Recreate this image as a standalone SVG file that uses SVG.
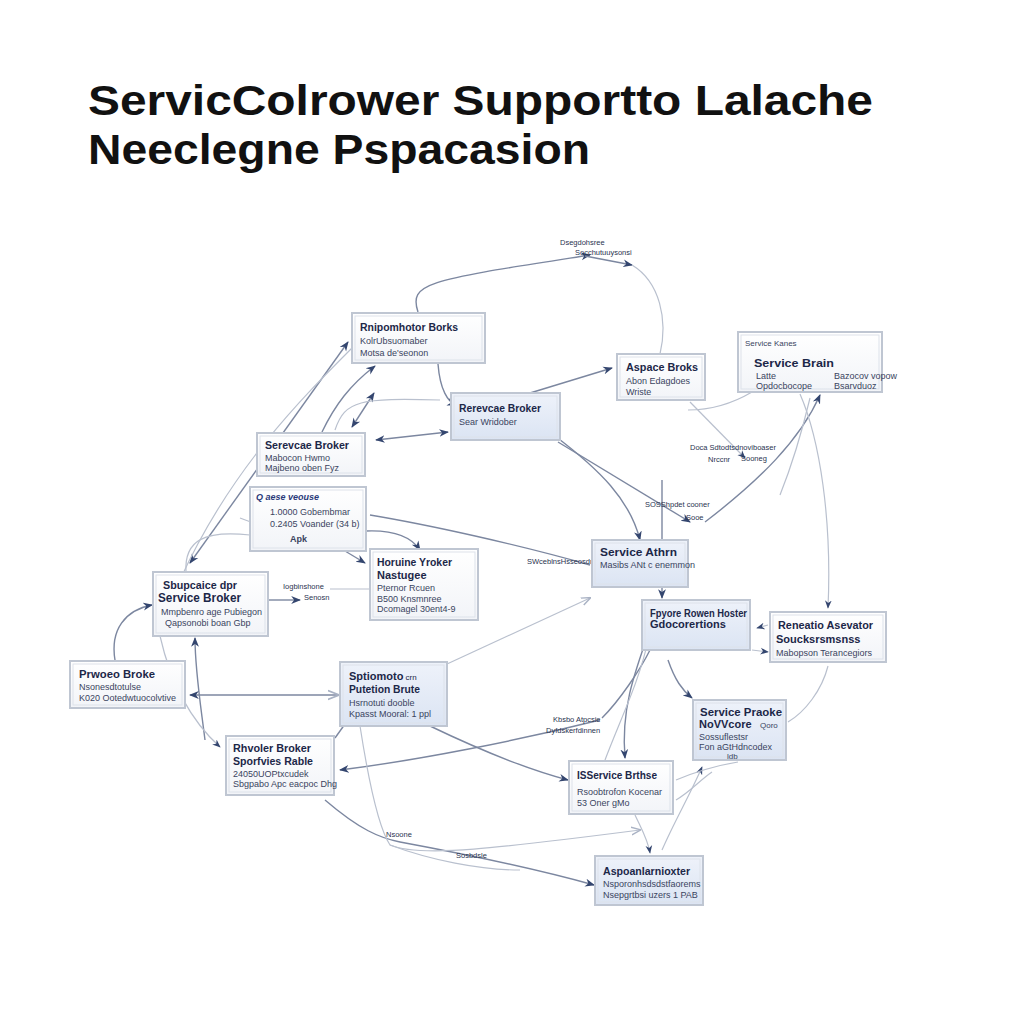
<svg xmlns="http://www.w3.org/2000/svg" width="1024" height="1024" viewBox="0 0 1024 1024">
<defs>
<linearGradient id="gw" x1="0" y1="0" x2="0" y2="1"><stop offset="0" stop-color="#ffffff"/><stop offset="1" stop-color="#f2f4f8"/></linearGradient>
<linearGradient id="gb" x1="0" y1="0" x2="0" y2="1"><stop offset="0" stop-color="#eef2fa"/><stop offset="1" stop-color="#dbe4f3"/></linearGradient>
<marker id="a" viewBox="0 0 10 10" refX="9" refY="5" markerWidth="7" markerHeight="7" orient="auto-start-reverse"><path d="M0,1 L10,5 L0,9 L3,5 z" fill="#34466f"/></marker>
<marker id="o" viewBox="0 0 10 10" refX="9" refY="5" markerWidth="8" markerHeight="8" orient="auto-start-reverse"><path d="M0,1 L10,5 L0,9" fill="none" stroke="#a9b2c4" stroke-width="1.5"/></marker>
</defs>
<style>
.bx{stroke:#bfc6d2;stroke-width:2}
.in{fill:none;stroke:#dde2ea;stroke-width:1}
.w{fill:url(#gw)}
.b{fill:url(#gb)}
.t{font-family:"Liberation Sans",Arial,sans-serif;font-weight:bold;font-size:11px;fill:#1c2748}
.s{font-family:"Liberation Sans",Arial,sans-serif;font-size:9px;fill:#3a4460}
.l{font-family:"Liberation Sans",Arial,sans-serif;font-size:7.5px;fill:#2a3350}
.h{font-family:"Liberation Sans",Arial,sans-serif;font-weight:bold;font-size:42px;fill:#111111}
.c{fill:none;stroke:#7c87a0;stroke-width:1.4}
.f{fill:none;stroke:#b9c0ce;stroke-width:1.2}
</style>
<rect width="1024" height="1024" fill="#ffffff"/>
<text class="h" x="88" y="115" textLength="785" lengthAdjust="spacingAndGlyphs">ServicColrower Supportto Lalache</text>
<text class="h" x="88" y="164" textLength="502" lengthAdjust="spacingAndGlyphs">Neeclegne Pspacasion</text>

<g id="connectors">
<path class="c" d="M418,312 C408,282 430,280 590,255" marker-end="url(#a)"/>
<path class="c" d="M585,256 L632,265" marker-end="url(#a)"/>
<path class="f" d="M632,265 C660,282 668,320 660,354"/>
<path class="c" d="M190,563 L348,342" marker-start="url(#a)" marker-end="url(#a)"/>
<path class="c" d="M322,432 C335,405 350,385 375,366" marker-end="url(#a)"/>
<path class="f" d="M180,580 C230,470 300,400 355,345"/>
<path class="c" d="M352,427 L374,393" marker-end="url(#a)" marker-start="url(#a)"/>
<path class="f" d="M335,430 C345,400 360,398 440,400"/>
<path class="c" d="M448,432 L376,440" marker-end="url(#a)" marker-start="url(#a)"/>
<path class="c" d="M438,364 C440,390 448,402 456,405" marker-end="url(#a)"/>
<path class="c" d="M530,393 L612,368" marker-end="url(#a)"/>
<path class="c" d="M555,436 C600,470 630,500 640,540" marker-end="url(#a)"/>
<path class="c" d="M558,442 L690,522" marker-end="url(#a)"/>
<path class="f" d="M752,392 C730,405 710,410 688,410"/>
<path class="f" d="M690,402 L745,458" marker-end="url(#a)"/>
<path class="c" d="M705,522 C760,480 800,440 820,395" marker-end="url(#a)"/>
<path class="f" d="M800,394 C820,440 832,520 828,608" marker-end="url(#a)"/>
<path class="f" d="M810,398 C800,440 790,470 780,495"/>
<path class="c" d="M370,515 C430,525 520,545 590,565"/>
<path class="c" d="M366,531 C390,530 410,535 420,550" marker-end="url(#a)"/>
<path class="c" d="M345,551 L365,563" marker-end="url(#a)"/>
<path class="f" d="M186,572 C184,540 205,530 250,535"/>
<path class="f" d="M240,518 C250,522 260,526 270,525"/>
<path class="c" d="M268,600 L300,600" marker-end="url(#a)"/>
<path class="f" d="M330,589 L370,589"/>
<path class="c" d="M115,660 C110,630 125,610 152,605" marker-end="url(#a)"/>
<path class="c" d="M205,740 C200,700 195,670 195,638" marker-end="url(#a)"/>
<path class="f" d="M160,636 C170,680 190,720 220,747" marker-end="url(#a)"/>
<path class="c" d="M190,695 L338,695" marker-start="url(#a)" marker-end="url(#o)"/>
<path class="f" d="M447,664 L590,598" marker-end="url(#o)"/>
<path class="c" d="M345,724 L335,738"/>
<path class="c" d="M430,726 C480,750 530,770 568,780" marker-end="url(#a)"/>
<path class="c" d="M600,720 C520,740 420,760 340,770" marker-end="url(#a)"/>
<path class="c" d="M602,718 C620,700 640,670 650,650"/>
<path class="c" d="M662,480 L662,598" marker-end="url(#a)"/>
<path class="c" d="M660,600 C640,660 620,700 625,758" marker-end="url(#a)"/>
<path class="f" d="M605,760 C620,720 640,680 648,640"/>
<path class="c" d="M668,660 C675,680 682,690 692,698" marker-end="url(#a)"/>
<path class="f" d="M768,625 L757,628" marker-end="url(#a)"/>
<path class="f" d="M752,650 L768,652" marker-end="url(#a)"/>
<path class="f" d="M828,666 C822,690 805,712 788,722"/>
<path class="f" d="M662,850 C675,820 690,795 702,767" marker-end="url(#a)"/>
<path class="f" d="M676,780 C700,770 720,765 738,762"/>
<path class="f" d="M635,815 C642,830 648,840 650,853" marker-end="url(#a)"/>
<path class="f" d="M676,800 C690,792 700,780 712,772"/>
<path class="c" d="M325,800 C360,830 380,838 400,842 C470,855 540,870 594,885" marker-end="url(#a)"/>
<path class="f" d="M360,726 C370,790 380,830 390,845 C420,858 500,848 640,830" marker-end="url(#o)"/>
<path class="f" d="M390,845 C430,860 480,870 520,870"/>
</g>

<g id="edge-labels">
<text class="l" x="560" y="245">Dsegdohsree</text>
<text class="l" x="575" y="255">Socchutuuysonsi</text>
<text class="l" x="690" y="450">Doca Sdtodtsdnoviboaser</text>
<text class="l" x="708" y="462">Nrccnr</text>
<text class="l" x="741" y="461">Sooneg</text>
<text class="l" x="645" y="507">SOSShpdet cooner</text>
<text class="l" x="686" y="520">Sooe</text>
<text class="l" x="283" y="589">Iogbinshone</text>
<text class="l" x="304" y="600">Senosn</text>
<text class="l" x="527" y="564">SWceblnsHsseosdne</text>
<text class="l" x="553" y="722">Kbsbo Atpcsie</text>
<text class="l" x="546" y="733">Dyfdskerfdinnen</text>
<text class="l" x="386" y="837">Nsoone</text>
<text class="l" x="456" y="858">Sosbdsle</text>
</g>

<g id="n1"><rect class="bx w" x="352" y="313" width="133" height="50"/><rect class="in" x="355" y="316" width="127" height="44"/>
<text class="t" x="360" y="331" textLength="98" lengthAdjust="spacingAndGlyphs">Rnipomhotor Borks</text><text class="s" x="360" y="344">KolrUbsuomaber</text><text class="s" x="360" y="356">Motsa de'seonon</text></g>

<g id="n2"><rect class="bx w" x="617" y="354" width="88" height="46"/><rect class="in" x="620" y="357" width="82" height="40"/>
<text class="t" x="626" y="371" textLength="72" lengthAdjust="spacingAndGlyphs">Aspace Broks</text><text class="s" x="626" y="384">Abon Edagdoes</text><text class="s" x="626" y="395">Wriste</text></g>

<g id="n3"><rect class="bx w" x="738" y="332" width="144" height="60"/><rect class="in" x="741" y="335" width="138" height="54"/>
<text class="s" x="745" y="346" style="font-size:8px">Service Kanes</text>
<text class="t" x="754" y="367" textLength="80" lengthAdjust="spacingAndGlyphs">Service Brain</text>
<text class="s" x="756" y="379">Latte</text><text class="s" x="756" y="389">Opdocbocope</text>
<text class="s" x="834" y="379">Bazocov vopow</text><text class="s" x="834" y="389">Bsarvduoz</text></g>

<g id="n4"><rect class="bx b" x="451" y="393" width="109" height="47"/><rect class="in" x="454" y="396" width="103" height="41"/>
<text class="t" x="459" y="412" textLength="82" lengthAdjust="spacingAndGlyphs">Rerevcae Broker</text><text class="s" x="459" y="425">Sear Wridober</text></g>

<g id="n5"><rect class="bx w" x="257" y="433" width="108" height="43"/><rect class="in" x="260" y="436" width="102" height="37"/>
<text class="t" x="265" y="449" textLength="84" lengthAdjust="spacingAndGlyphs">Serevcae Broker</text><text class="s" x="265" y="461">Mabocon Hwmo</text><text class="s" x="265" y="471">Majbeno oben Fyz</text></g>

<g id="n6"><rect class="bx w" x="250" y="487" width="116" height="64"/><rect class="in" x="253" y="490" width="110" height="58"/>
<text class="s" x="256" y="500" style="font-weight:bold;font-style:italic;fill:#2a3a7a">Q aese veouse</text>
<text class="s" x="270" y="515">1.0000 Gobembmar</text><text class="s" x="270" y="527">0.2405 Voander (34 b)</text><text class="s" x="290" y="542" style="font-weight:bold">Apk</text></g>

<g id="n7"><rect class="bx w" x="370" y="549" width="108" height="71"/><rect class="in" x="373" y="552" width="102" height="65"/>
<text class="t" x="377" y="566" textLength="75" lengthAdjust="spacingAndGlyphs">Horuine Yroker</text><text class="t" x="377" y="579">Nastugee</text>
<text class="s" x="377" y="591">Pternor Rcuen</text><text class="s" x="377" y="602">B500 Knsmnree</text><text class="s" x="377" y="612">Dcomagel 30ent4-9</text></g>

<g id="n8"><rect class="bx w" x="153" y="572" width="115" height="64"/><rect class="in" x="156" y="575" width="109" height="58"/>
<text class="t" x="163" y="589" textLength="74" lengthAdjust="spacingAndGlyphs">Sbupcaice dpr</text>
<text class="t" x="158" y="602" textLength="83" lengthAdjust="spacingAndGlyphs" style="font-size:12px">Service Broker</text>
<text class="s" x="161" y="615">Mmpbenro age Pubiegon</text><text class="s" x="165" y="626">Qapsonobi boan Gbp</text></g>

<g id="n9"><rect class="bx b" x="592" y="540" width="96" height="47"/><rect class="in" x="595" y="543" width="90" height="41"/>
<text class="t" x="600" y="556" textLength="77" lengthAdjust="spacingAndGlyphs">Service Athrn</text><text class="s" x="600" y="568">Masibs ANt c enemmon</text></g>

<g id="n10"><rect class="bx b" x="642" y="600" width="108" height="50"/><rect class="in" x="645" y="603" width="102" height="44"/>
<text class="t" x="650" y="617" textLength="97" lengthAdjust="spacingAndGlyphs">Fpyore Rowen Hoster</text><text class="t" x="650" y="628">Gdocorertions</text></g>

<g id="n11"><rect class="bx w" x="770" y="612" width="116" height="50"/><rect class="in" x="773" y="615" width="110" height="44"/>
<text class="t" x="778" y="629" textLength="95" lengthAdjust="spacingAndGlyphs">Reneatio Asevator</text><text class="t" x="776" y="643">Soucksrsmsnss</text><text class="s" x="776" y="656">Mabopson Terancegiors</text></g>

<g id="n12"><rect class="bx w" x="70" y="661" width="115" height="47"/><rect class="in" x="73" y="664" width="109" height="41"/>
<text class="t" x="79" y="678" textLength="76" lengthAdjust="spacingAndGlyphs">Prwoeo Broke</text><text class="s" x="79" y="690">Nsonesdtotulse</text><text class="s" x="79" y="701">K020 Ootedwtuocolvtive</text></g>

<g id="n13"><rect class="bx b" x="340" y="662" width="107" height="64"/><rect class="in" x="343" y="665" width="101" height="58"/>
<text class="t" x="349" y="680"><tspan>Sptiomoto</tspan><tspan style="font-weight:normal;font-size:8px"> crn</tspan></text>
<text class="t" x="349" y="693" textLength="71" lengthAdjust="spacingAndGlyphs">Putetion Brute</text>
<text class="s" x="349" y="706">Hsrnotuti dooble</text><text class="s" x="349" y="717">Kpasst Mooral: 1 ppl</text></g>

<g id="n14"><rect class="bx b" x="693" y="700" width="93" height="60"/><rect class="in" x="696" y="703" width="87" height="54"/>
<text class="t" x="700" y="716" textLength="82" lengthAdjust="spacingAndGlyphs">Service Praoke</text>
<text class="t" x="699" y="728">NoVVcore</text><text class="s" x="760" y="728" style="font-size:8px">Qoro</text>
<text class="s" x="699" y="740">Sossuflestsr</text><text class="s" x="699" y="750">Fon aGtHdncodex</text><text class="s" x="727" y="759" style="font-size:8px">ldb</text></g>

<g id="n15"><rect class="bx w" x="226" y="736" width="108" height="59"/><rect class="in" x="229" y="739" width="102" height="53"/>
<text class="t" x="233" y="752" textLength="78" lengthAdjust="spacingAndGlyphs">Rhvoler Broker</text>
<text class="t" x="233" y="765" textLength="80" lengthAdjust="spacingAndGlyphs">Sporfvies Rable</text>
<text class="s" x="233" y="777">24050UOPtxcudek</text><text class="s" x="233" y="787">Sbgpabo Apc eacpoc Dhg</text></g>

<g id="n16"><rect class="bx w" x="569" y="761" width="104" height="53"/><rect class="in" x="572" y="764" width="98" height="47"/>
<text class="t" x="577" y="779" textLength="80" lengthAdjust="spacingAndGlyphs">ISService Brthse</text><text class="s" x="577" y="795">Rsoobtrofon Kocenar</text><text class="s" x="577" y="806">53 Oner gMo</text></g>

<g id="n17"><rect class="bx b" x="595" y="856" width="108" height="49"/><rect class="in" x="598" y="859" width="102" height="43"/>
<text class="t" x="603" y="875" textLength="87" lengthAdjust="spacingAndGlyphs">Aspoanlarnioxter</text><text class="s" x="603" y="887">Nsporonhsdsdstfaorems</text><text class="s" x="603" y="898">Nsepgrtbsi uzers 1 PAB</text></g>
</svg>
